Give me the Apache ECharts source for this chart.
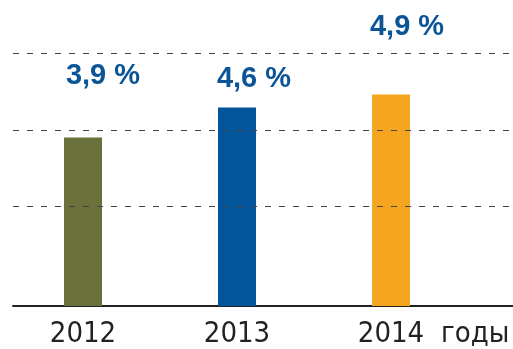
<!DOCTYPE html>
<html>
<head>
<meta charset="utf-8">
<script src="https://cdn.jsdelivr.net/npm/echarts@6/dist/echarts.min.js"></script>
<style>
  html, body { margin: 0; padding: 0; background: #ffffff; }
  #chart { width: 513px; height: 349px; }
</style>
</head>
<body>
<div id="chart"></div>
<script>
// Growth rate by year, percent
const years = ['2012', '2013', '2014'];
const values = [3.9, 4.6, 4.9];
const barColors = ['#6a713b', '#02559a', '#f6a51f'];
// Reference levels of the dashed guide lines
const gridValues = [2.31, 4.08, 5.86];
const unitLabel = 'годы';

// Value-label nudges [dx, dy] per bar
const labelNudge = [[20, -33], [17, 0], [16, -39]];

const chart = echarts.init(document.getElementById('chart'), null, { renderer: 'canvas' });

const bodyFont = '"Liberation Sans Narrow", "DejaVu Sans Condensed", sans-serif';

chart.setOption({
  animation: false,
  grid: { left: 13, right: 0, top: 53, bottom: 42 },
  xAxis: {
    type: 'value',
    min: -0.4545,
    max: 2.792,
    splitLine: { show: false },
    axisLine: { show: true, onZero: false, lineStyle: { color: '#222222', width: 2 } },
    axisTick: { show: false },
    axisLabel: {
      customValues: [0, 1, 2],
      formatter: (v) => years[Math.round(v)] || '',
      color: '#222222',
      fontFamily: bodyFont,
      fontSize: 29,
      margin: 14
    }
  },
  yAxis: {
    type: 'value',
    min: 0,
    max: 5.86,
    show: false,
    splitLine: { show: false }
  },
  series: [{
    type: 'bar',
    barWidth: 38,
    data: values.map((v, i) => ({
      value: [i, v],
      itemStyle: { color: barColors[i] },
      label: { offset: labelNudge[i] }
    })),
    label: {
      show: true,
      position: 'top',
      distance: 14,
      formatter: (p) => String(p.value[1]).replace('.', ',') + ' %',
      color: '#0b5597',
      fontFamily: '"Liberation Sans", Arial, sans-serif',
      fontWeight: 'bold',
      fontSize: 29
    },
    markLine: {
      silent: true,
      symbol: 'none',
      label: { show: false },
      lineStyle: { type: [6, 8], color: '#444444', width: 1 },
      data: gridValues.map((g) => ({ yAxis: g }))
    }
  }],
  graphic: [{
    type: 'text',
    left: 441,
    top: 320,
    style: {
      text: unitLabel,
      fill: '#222222',
      font: '29px ' + bodyFont
    }
  }]
});
</script>
</body>
</html>
